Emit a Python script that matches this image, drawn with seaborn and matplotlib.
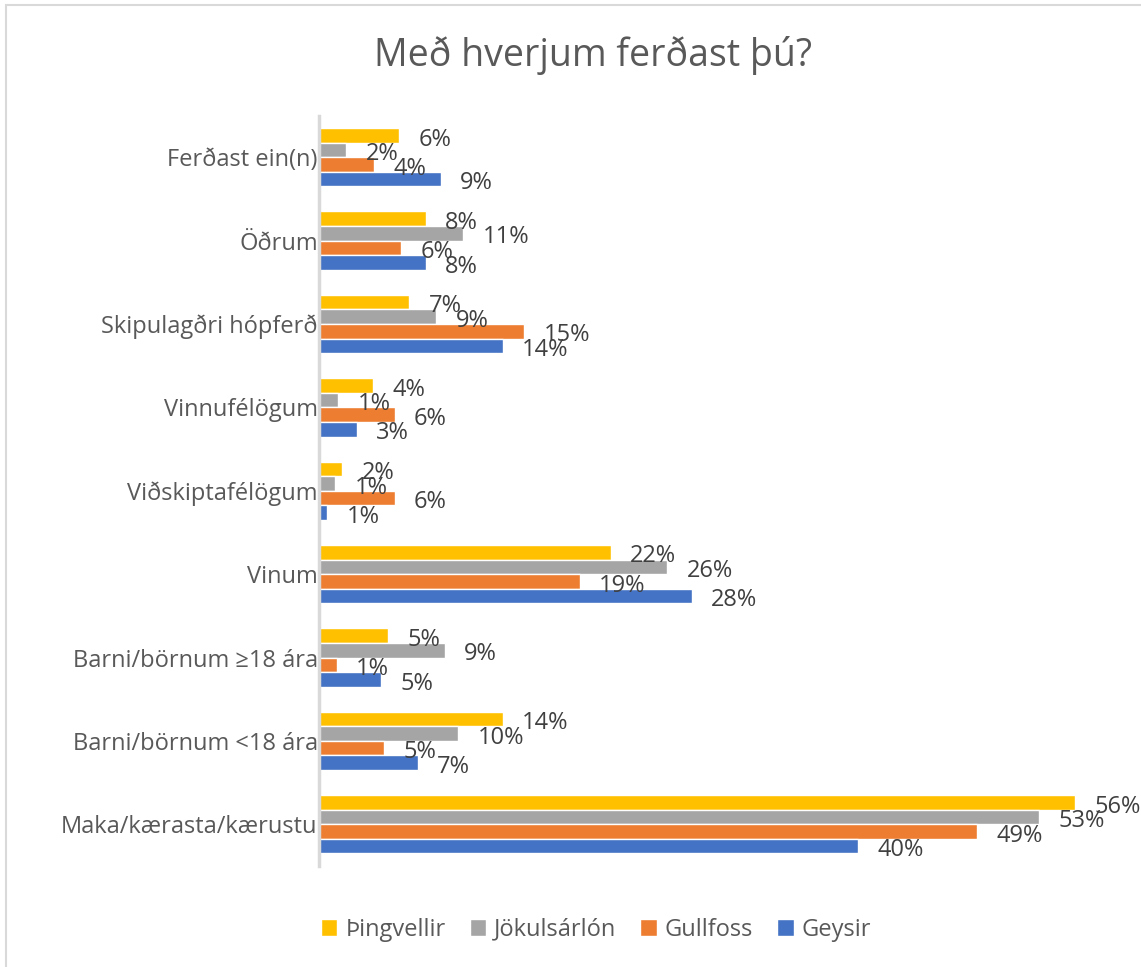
import matplotlib
matplotlib.use("Agg")
import matplotlib.pyplot as plt
import seaborn as sns
import pandas as pd
from matplotlib.patches import Rectangle

# categories top -> bottom
categories = [
    "Ferðast ein(n)", "Öðrum", "Skipulagðri hópferð", "Vinnufélögum",
    "Viðskiptafélögum", "Vinum", "Barni/börnum ≥18 ára",
    "Barni/börnum <18 ára", "Maka/kærasta/kærustu",
]
series = ["Þingvellir", "Jökulsárlón", "Gullfoss", "Geysir"]
colors = ["#FFC000", "#A5A5A5", "#ED7D31", "#4472C4"]

# values (percent)
thingvellir = [5.9, 7.9, 6.7, 4.0, 1.7, 21.6, 5.1, 13.6, 56.0]
jokulsarlon = [2.0, 10.7, 8.7, 1.4, 1.2, 25.8, 9.3, 10.3, 53.3]
gullfoss = [4.1, 6.1, 15.2, 5.6, 5.6, 19.3, 1.3, 4.8, 48.7]
geysir = [9.0, 7.9, 13.6, 2.8, 0.6, 27.6, 4.6, 7.3, 39.9]

rows = []
for name, vals in zip(series, [thingvellir, jokulsarlon, gullfoss, geysir]):
    for cat, v in zip(categories, vals):
        rows.append({"Hópur": cat, "Staður": name, "Hlutfall": v})
df = pd.DataFrame(rows)

sns.set_style("white")
plt.rcParams["font.family"] = ["Open Sans", "DejaVu Sans"]
text_color = "#595959"

fig = plt.figure(figsize=(11.41, 9.67), dpi=100)
ax = fig.add_axes([0.2796, 0.1045, 0.71, 0.776])

sns.barplot(
    data=df, y="Hópur", x="Hlutfall", hue="Staður",
    order=categories, hue_order=series, palette=colors,
    orient="h", width=0.7, gap=0, saturation=1, ax=ax, legend=True,
)

# data labels, nudged a little below bar centre like the original
for cont in ax.containers:
    lbls = ax.bar_label(cont, labels=[f"{v:.0f}%" for v in cont.datavalues],
                        padding=14, fontsize=17, color="#404040")
    for t in lbls:
        x, y = t.xyann
        t.xyann = (x, y - 3)

ax.set_xlim(0, 60)
ax.set_xlabel("")
ax.set_ylabel("")
ax.set_xticks([])
ax.tick_params(axis="y", length=0, labelsize=17, labelcolor=text_color, pad=1)
for s in ["top", "right", "bottom"]:
    ax.spines[s].set_visible(False)
ax.spines["left"].set_color("#D9D9D9")
ax.spines["left"].set_linewidth(2.5)

leg = ax.legend(loc="center", bbox_to_anchor=(0.342, -0.085),
                ncol=4, frameon=False, fontsize=17, handlelength=0.7,
                handleheight=0.7, handletextpad=0.35, columnspacing=1.0)
for t in leg.get_texts():
    t.set_color(text_color)

fig.text(0.52, 0.943, "Með hverjum ferðast þú?", ha="center", va="center",
         fontsize=27, color=text_color)

fig.patches.append(Rectangle((6 / 1141, -0.05), 1.2, 1.05 - 5 / 967,
                             transform=fig.transFigure, fill=False,
                             edgecolor="#D9D9D9", linewidth=1.5))

fig.savefig("out.png", dpi=100)
